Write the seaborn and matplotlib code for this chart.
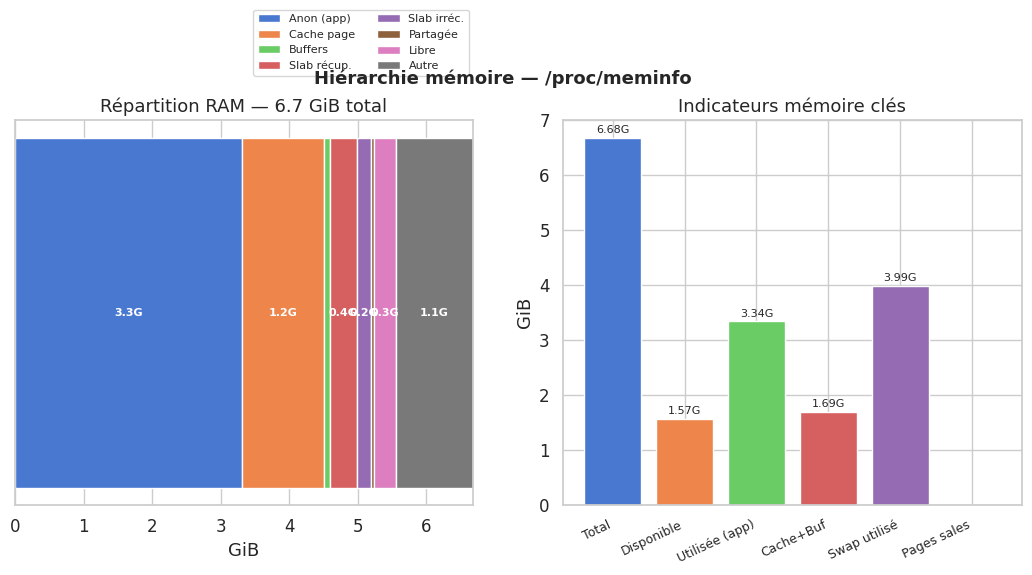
import numpy as np
import seaborn as sns
import matplotlib
matplotlib.use("Agg")
import matplotlib.pyplot as plt

# Composantes de la RAM (GiB)
segments = ['Anon (app)', 'Cache page', 'Buffers', 'Slab récup.', 'Slab irréc.',
            'Partagée', 'Libre', 'Autre']
seg_values = [3.31, 1.20, 0.08, 0.40, 0.21, 0.04, 0.32, 1.12]
total_ram = 6.68

# Indicateurs clés (GiB)
indicators = ['Total', 'Disponible', 'Utilisée (app)', 'Cache+Buf', 'Swap utilisé', 'Pages sales']
ind_values = [6.68, 1.57, 3.34, 1.69, 3.99, 0.0]

sns.set_theme(style='whitegrid', palette='muted')
colors = sns.color_palette('muted', 8)

fig = plt.figure(figsize=(10.32, 5.75), dpi=100)
ax1 = fig.add_axes([0.0145, 0.1217, 0.4438, 0.6696])
ax2 = fig.add_axes([0.5455, 0.1217, 0.4448, 0.6696])

# barre empilée
left = 0.0
for name, v, c in zip(segments, seg_values, colors):
    ax1.barh(0, v, left=left, color=c, edgecolor='white', linewidth=1, label=name)
    if v > 0.15:
        ax1.text(left + v / 2, 0, f'{v:.1f}G', ha='center', va='center',
                 color='white', fontsize=8, fontweight='bold')
    left += v
ax1.set_xlim(0, total_ram)
ax1.set_yticks([])
ax1.set_xlabel('GiB', fontsize=13)
ax1.set_title(f'Répartition RAM — {total_ram:.1f} GiB total', fontsize=13)
ax1.tick_params(axis='x', labelsize=12)

# indicateurs
sns.barplot(x=indicators, y=ind_values, hue=indicators, palette=colors[:6],
            legend=False, ax=ax2, width=0.8, saturation=1)
ax2.set_xlim(-0.69, 5.69)
ax2.set_ylim(0, 7)
ax2.grid(True, axis='both')
ax2.set_axisbelow(True)
for i, v in enumerate(ind_values):
    if v > 0:
        ax2.text(i, v + 0.05, f'{v:.2f}G', ha='center', va='bottom', fontsize=8)
ax2.set_ylabel('GiB', fontsize=13)
ax2.set_title('Indicateurs mémoire clés', fontsize=13)
ax2.tick_params(axis='y', labelsize=12)
plt.setp(ax2.get_xticklabels(), rotation=25, ha='right', fontsize=9)

leg = fig.legend(loc='upper center', bbox_to_anchor=(0.35, 0.993), ncol=2, fontsize=8)
leg.set_zorder(2)
fig.suptitle('Hiérarchie mémoire — /proc/meminfo', fontsize=13, fontweight='bold',
             x=0.487, y=0.88, zorder=6)

fig.savefig('out.png', dpi=100)
